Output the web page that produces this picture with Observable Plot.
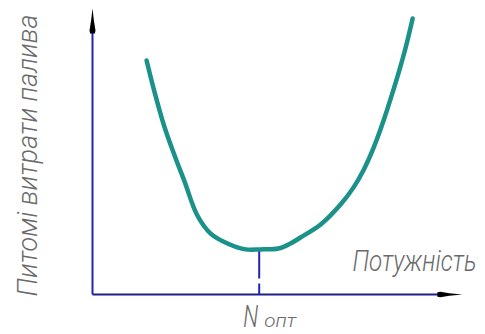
<!DOCTYPE html>
<html>
<head>
<meta charset="utf-8">
<script src="https://cdn.jsdelivr.net/npm/d3@7"></script>
<script src="https://cdn.jsdelivr.net/npm/@observablehq/plot@0.6"></script>
<style>
  html, body { margin: 0; padding: 0; background: #fff; }
  svg { overflow: visible; }
</style>
</head>
<body>
<div id="chart"></div>
<script>
// Power (relative units, 0–100 along the axis)
const power = [14.7, 17.1, 19.6, 22.3, 25.0, 28.5, 32.1, 36.7, 41.6, 45.7, 50.5, 53.8, 56.5, 62.0, 67.4, 70.9, 73.6, 76.4, 79.1, 81.3, 83.2, 85.1, 87.0];
// Specific fuel consumption (relative units)
const consumption = [83.0, 70.6, 59.2, 49.3, 40.1, 28.0, 21.6, 18.1, 16.0, 16.0, 16.3, 18.1, 20.2, 24.8, 31.9, 37.9, 44.0, 52.1, 61.7, 70.6, 78.7, 87.6, 97.9];
// Optimum power
const optPower = [45.3];
const optConsumption = [16.0];
// Axis extents (arrow tips)
const axisXEnd = [100.5];
const axisYEnd = [101.4];
// Labels
const yLabel = ["Питомі витрати палива"];
const xLabel = ["Потужність"];
const optLabelMain = ["N"];
const optLabelSub = ["опт"];

const curve = power.map((p, i) => ({power: p, consumption: consumption[i]}));

const textFit = {
  "Питомі витрати палива": 282,
  "Потужність": 124,
  "N": 15,
  "опт": 32
};

const arrowUp = {
  draw(ctx) {
    ctx.moveTo(0, 0);
    ctx.lineTo(1.4, 12);
    ctx.lineTo(3, 22);
    ctx.lineTo(2.4, 25);
    ctx.lineTo(-2.4, 25);
    ctx.lineTo(-3, 22);
    ctx.lineTo(-1.4, 12);
    ctx.closePath();
  }
};
const arrowRight = {
  draw(ctx) {
    ctx.moveTo(0, 0);
    ctx.lineTo(-13, -1.2);
    ctx.lineTo(-22, -2.8);
    ctx.lineTo(-25, -2.2);
    ctx.lineTo(-25, 2.2);
    ctx.lineTo(-22, 2.8);
    ctx.lineTo(-13, 1.2);
    ctx.closePath();
  }
};

const labelFont = "Roboto, 'DejaVu Sans', sans-serif";
const textStyle = {fill: "#6a6a6a", fontWeight: 300, fontStyle: "italic", fontFamily: labelFont};

const chart = Plot.plot({
  width: 485,
  height: 334,
  marginLeft: 92,
  marginRight: 25,
  marginTop: 12,
  marginBottom: 40,
  x: {domain: [0, 100], axis: null},
  y: {domain: [0, 100], axis: null},
  style: {background: "white", overflow: "visible"},
  marks: [
    // Y axis line
    Plot.link([0], {x1: 0, x2: 0, y1: 0, y2: () => axisYEnd[0] - 8.5, stroke: "#2424b0", strokeWidth: 2}),
    // X axis line
    Plot.link([0], {x1: 0, x2: () => axisXEnd[0] - 6, y1: 0, y2: 0, stroke: "#1e1e8c", strokeWidth: 2}),
    // arrow heads
    Plot.dot([0], {x: 0, y: () => axisYEnd[0], symbol: arrowUp, fill: "black", stroke: "none"}),
    Plot.dot([0], {x: () => axisXEnd[0], y: 0, symbol: arrowRight, fill: "black", stroke: "none"}),
    // dashed optimum line
    Plot.link(optPower, {x1: d => d, x2: d => d, y1: 0, y2: (d, i) => optConsumption[i], stroke: "#2424b0", strokeWidth: 2, strokeDasharray: "11,5,60"}),
    // curve
    Plot.line(curve, {x: "power", y: "consumption", stroke: "#1a9189", strokeWidth: 4.5, strokeLinejoin: "round", strokeLinecap: "round", curve: "catmull-rom"}),
    // labels
    Plot.text(yLabel, {text: d => d, frameAnchor: "left", dx: -56, dy: 2, rotate: -90, textAnchor: "middle", lineAnchor: "bottom", fontSize: 28, ...textStyle}),
    Plot.text(xLabel, {text: d => d, frameAnchor: "bottom-right", dx: 16, dy: -24, textAnchor: "end", lineAnchor: "bottom", fontSize: 29, ...textStyle}),
    Plot.text(optPower, {x: d => d, y: 0, text: () => optLabelMain[0], dx: -16, dy: 32, textAnchor: "start", lineAnchor: "bottom", fontSize: 31, ...textStyle}),
    Plot.text(optPower, {x: d => d, y: 0, text: () => optLabelSub[0], dx: 5, dy: 32, textAnchor: "start", lineAnchor: "bottom", fontSize: 19, ...textStyle})
  ]
});

d3.select(chart).selectAll("text").each(function () {
  const t = this.textContent;
  if (textFit[t] !== undefined) {
    this.setAttribute("textLength", textFit[t]);
    this.setAttribute("lengthAdjust", "spacingAndGlyphs");
  }
});

document.getElementById("chart").appendChild(chart);
</script>
</body>
</html>
